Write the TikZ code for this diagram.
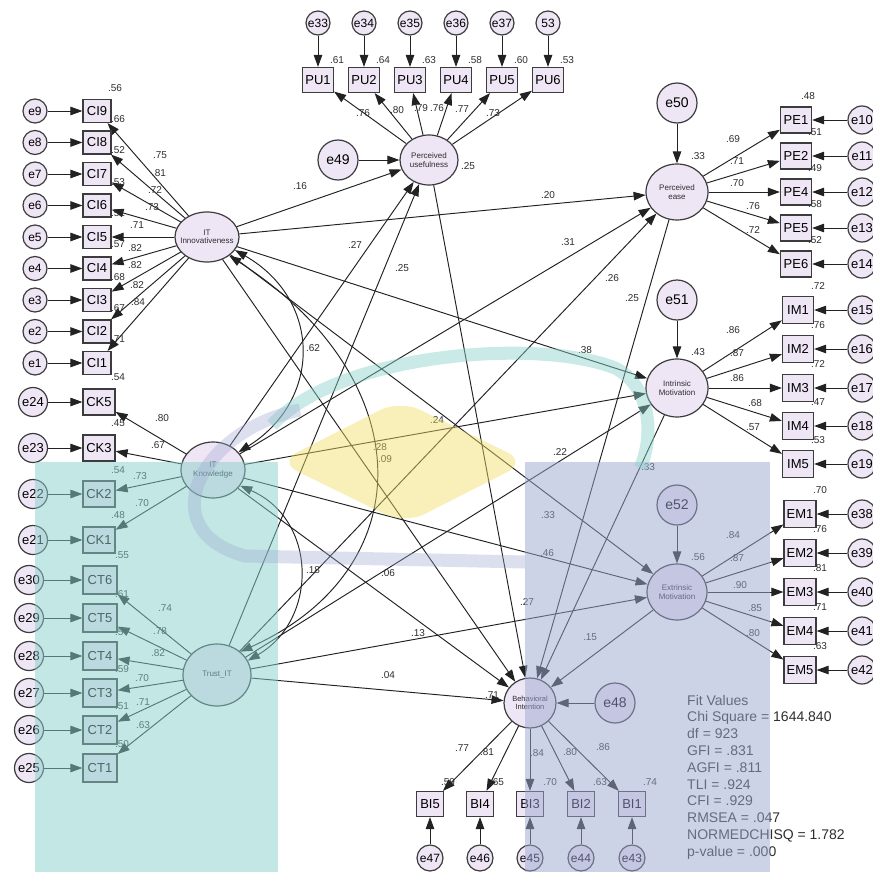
\documentclass[tikz,border=0pt]{standalone}
\usepackage{fontspec}
\setmainfont{Liberation Sans}
\usetikzlibrary{arrows.meta,shapes.geometric}
\definecolor{linec}{HTML}{222222}
\definecolor{edgec}{HTML}{3C3C3C}
\definecolor{nodefill}{HTML}{EEE5F5}
\definecolor{valc}{HTML}{2E2E2E}
\definecolor{wmteal}{RGB}{137,209,203}
\definecolor{wmlav}{RGB}{157,169,209}
\definecolor{wmyel}{RGB}{241,221,101}
\begin{document}
\begin{tikzpicture}[x=1pt,y=-1pt,
  arr/.style={draw=linec,line width=0.95pt,-{Triangle[length=12pt,width=8.5pt]}},
  cov/.style={draw=linec,line width=0.95pt,{Triangle[length=12pt,width=8.5pt]}-{Triangle[length=12pt,width=8.5pt]}},
  obs/.style={rectangle,draw=edgec,fill=nodefill,line width=1.2pt,minimum width=30pt,minimum height=24pt,inner sep=0pt,font=\fontsize{13}{13}\selectfont},
  err/.style={circle,draw=edgec,fill=nodefill,line width=1.2pt,minimum size=24pt,inner sep=0pt,font=\fontsize{12}{12}\selectfont},
  miderr/.style={err,minimum size=29pt,font=\fontsize{13}{13}\selectfont},
  bigerr/.style={err,minimum size=40pt,font=\fontsize{14}{14}\selectfont},
  lat/.style={ellipse,draw=edgec,fill=nodefill,line width=1.2pt,inner sep=0pt},
  lattxt/.style={align=center,font=\fontsize{8}{8.5}\selectfont,inner sep=0pt,text=valc},
  val/.style={font=\fontsize{10}{10}\selectfont,text=valc,inner sep=0pt},
  fitvals/.style={font=\fontsize{14}{14}\selectfont,text=valc,inner sep=0pt,anchor=base west}
]
\fill[white] (0,0) rectangle (872,872);
\useasboundingbox (0,0) rectangle (872,872);

% ---------- latent constructs ----------
\node[lat,minimum width=64pt,minimum height=50pt] (ITI) at (207,237) {};
\node[lat,minimum width=58pt,minimum height=50pt] (PU)  at (429,160) {};
\node[lat,minimum width=62pt,minimum height=56pt] (PE)  at (677,192) {};
\node[lat,minimum width=62pt,minimum height=58pt] (IM)  at (677,388) {};
\node[lat,minimum width=60pt,minimum height=56pt] (EM)  at (677,592) {};
\node[lat,minimum width=52pt,minimum height=50pt] (BI)  at (530,703) {};
\node[lat,minimum width=64pt,minimum height=56pt] (ITK) at (213,470) {};
\node[lat,minimum width=68pt,minimum height=62pt] (TR)  at (217,675) {};

% ---------- disturbances of the endogenous constructs ----------
\node[bigerr] (e49) at (338,160) {e49};
\node[bigerr] (e50) at (677,103) {e50};
\node[bigerr] (e51) at (677,300) {e51};
\node[bigerr] (e52) at (677,505) {e52};
\node[bigerr] (e48) at (615,703) {e48};
\draw[arr] (e49) -- (PU);
\draw[arr] (e50) -- (PE);
\draw[arr] (e51) -- (IM);
\draw[arr] (e52) -- (EM);
\draw[arr] (e48) -- (BI);

% ---------- IT innovativeness indicators ----------
\foreach \i/\y in {9/111,8/142.5,7/174,6/205.5,5/237,4/268.5,3/300,2/331.5,1/363}{
  \node[err] (e\i) at (35,\y) {e\i};
  \node[obs,minimum width=28pt,minimum height=23pt] (CI\i) at (97,\y) {CI\i};
  \draw[arr] (e\i) -- (CI\i);
  \draw[arr] (ITI) -- (CI\i);
}

% ---------- IT knowledge indicators ----------
\foreach \e/\c/\y in {24/5/402,23/3/448,22/2/494,21/1/540}{
  \node[miderr] (e\e) at (33,\y) {e\e};
  \node[obs,minimum width=32pt,minimum height=26pt] (CK\c) at (99,\y) {CK\c};
  \draw[arr] (e\e) -- (CK\c);
  \draw[arr] (ITK) -- (CK\c);
}

% ---------- trust indicators ----------
\foreach \e/\c/\y in {30/6/580,29/5/618,28/4/656,27/3/693,26/2/730,25/1/768}{
  \node[miderr] (e\e) at (29,\y) {e\e};
  \node[obs,minimum width=34pt,minimum height=28pt] (CT\c) at (100,\y) {CT\c};
  \draw[arr] (e\e) -- (CT\c);
  \draw[arr] (TR) -- (CT\c);
}

% ---------- perceived usefulness indicators ----------
\foreach \e/\c/\x in {e33/1/318,e34/2/364,e35/3/410,e36/4/456,e37/5/502,53/6/548}{
  \node[err] (u\c) at (\x,23) {\e};
  \node[obs,minimum width=31pt,minimum height=25pt] (PU\c) at (\x,80) {PU\c};
  \draw[arr] (u\c) -- (PU\c);
  \draw[arr] (PU) -- (PU\c);
}

% ---------- perceived ease indicators ----------
\foreach \e/\c/\y in {10/1/120,11/2/156,12/4/192,13/5/228,14/6/264}{
  \node[miderr,minimum size=28pt] (e\e) at (862,\y) {e\e};
  \node[obs,minimum width=31pt,minimum height=26pt] (PE\c) at (796,\y) {PE\c};
  \draw[arr] (e\e) -- (PE\c);
  \draw[arr] (PE) -- (PE\c);
}

% ---------- intrinsic motivation indicators ----------
\foreach \e/\c/\y in {15/1/310,16/2/349,17/3/388,18/4/426,19/5/464}{
  \node[miderr,minimum size=28pt] (e\e) at (862,\y) {e\e};
  \node[obs,minimum width=31pt,minimum height=27pt] (IM\c) at (798,\y) {IM\c};
  \draw[arr] (e\e) -- (IM\c);
  \draw[arr] (IM) -- (IM\c);
}

% ---------- extrinsic motivation indicators ----------
\foreach \e/\c/\y in {38/1/514,39/2/553,40/3/592,41/4/631,42/5/670}{
  \node[miderr,minimum size=28pt] (e\e) at (862,\y) {e\e};
  \node[obs,minimum width=32pt,minimum height=27pt] (EM\c) at (800,\y) {EM\c};
  \draw[arr] (e\e) -- (EM\c);
  \draw[arr] (EM) -- (EM\c);
}

% ---------- behavioural intention indicators ----------
\foreach \e/\c/\x in {47/5/430,46/4/480,45/3/530,44/2/581,43/1/632}{
  \node[err,minimum size=26pt] (e\e) at (\x,858) {e\e};
  \node[obs,minimum width=27pt,minimum height=25pt] (BI\c) at (\x,804) {BI\c};
  \draw[arr] (e\e) -- (BI\c);
  \draw[arr] (BI) -- (BI\c);
}

% ---------- structural paths ----------
\foreach \s in {ITI,ITK,TR}{
  \foreach \t in {PU,PE,IM,EM,BI}{
    \draw[arr] (\s) -- (\t);
  }
}
\foreach \s in {PU,PE,IM,EM}{
  \draw[arr] (\s) -- (BI);
}

% ---------- covariances among exogenous constructs ----------
\draw[cov] (ITI.-25) .. controls (322,300) and (322,400) .. (ITK.35);
\draw[cov] (ITI.-40) .. controls (422,380) and (422,570) .. (TR.45);
\draw[cov] (ITK.-30) .. controls (318,520) and (318,620) .. (TR.25);

% ---------- construct names ----------
\node[lattxt] (tITI) at (ITI) {IT\\Innovativeness};
\node[lattxt] (tPU)  at (PU)  {Perceived\\usefulness};
\node[lattxt] (tPE)  at (PE)  {Perceived\\ease};
\node[lattxt] (tIM)  at (IM)  {Intrinsic\\Motivation};
\node[lattxt] (tEM)  at (EM)  {Extrinsic\\Motivation};
\node[lattxt,font=\fontsize{7.5}{8}\selectfont] (tBI) at (BI) {Behavioral\\Intention};
\node[lattxt] (tITK) at (ITK) {IT\\Knowledge};
\node[lattxt] (tTR)  at (TR)  {Trust\_IT};

% ---------- estimates ----------
\foreach \x/\y/\t [count=\k] in {
  300/186/.16, 548/195/.20, 355/245/.27, 402/268/.25, 568/242/.31, 612/278/.26,
  632/298/.25, 313/348/.62, 585/350/.38, 437/420/.24, 380/447/.28, 385/459/.09,
  560/452/.22, 548/515/.33, 648/467/.33, 547/553/.46, 313/570/.18, 388/573/.06,
  527/602/.27, 418/633/.13, 590/637/.15, 388/675/.04,
  468/166/.25, 698/156/.33, 698/352/.43, 698/557/.56, 492/695/.71,
  363/113/.76, 397/110/.80, 421/108/.79, 437/108/.76, 462/109/.77, 493/113/.73,
  337/60/.61, 383/60/.64, 429/60/.63, 475/60/.58, 521/60/.60, 567/60/.53,
  733/139/.69, 737/161/.71, 737/183/.70, 753/206/.76, 753/230/.72,
  808/96/.48, 815/132/.51, 815/168/.49, 815/204/.58, 815/240/.52,
  733/330/.86, 737/353/.87, 737/378/.86, 755/403/.68, 753/427/.57,
  818/286/.72, 818/325/.76, 818/364/.72, 818/402/.47, 818/440/.53,
  733/535/.84, 737/558/.87, 740/585/.90, 755/608/.85, 753/633/.80,
  820/490/.70, 820/529/.76, 820/568/.81, 820/607/.71, 820/646/.63,
  462/748/.77, 487/752/.81, 537/753/.84, 570/752/.80, 603/747/.86,
  448/782/.59, 497/782/.65, 550/782/.70, 600/782/.63, 650/782/.74,
  160/155/.75, 159/173/.81, 155/190/.72, 152/207/.73, 137/225/.71,
  135/248/.82, 135/265/.82, 137/285/.82, 138/302/.84,
  115/88/.56, 118/119/.66, 118/150/.52, 118/182/.53, 118/213/.51,
  118/244/.57, 118/277/.68, 118/308/.67, 118/339/.71,
  118/377/.54, 118/423/.45, 118/470/.54, 118/515/.48,
  162/418/.80, 158/445/.67, 140/476/.73, 142/503/.70,
  122/555/.55, 122/594/.61, 122/632/.57, 122/669/.59, 122/706/.51, 122/744/.50,
  165/608/.74, 160/631/.78, 158/653/.82, 142/678/.70, 143/702/.71, 143/725/.63}
  \node[val,name=v\k] at (\x,\y) {\t};

% ---------- fit statistics ----------
\foreach \t [count=\k from 0] in {Fit Values, Chi Square = 1644.840, df = 923,
  GFI = .831, AGFI = .811, TLI = .924, CFI = .929, RMSEA = .047,
  NORMEDCHISQ = 1.782, p-value = .000}
  \node[fitvals,name=fv\k] at (687,705+16.8*\k) {\t};

% ---------- translucent emblem laid over the diagram ----------
\fill[wmteal,opacity=.5] (35,462) rectangle (278,872);
\fill[wmlav,opacity=.5] (525,462) rectangle (770,872);
\fill[wmyel,opacity=.45,rounded corners=22pt] (278,462) -- (400,400) -- (527,462) -- (405,524) -- cycle;
\draw[wmteal,opacity=.45,line width=13pt] (272,425) .. controls (340,352) and (540,338) .. (615,368)
  .. controls (650,385) and (655,435) .. (640,468);
\draw[wmlav,opacity=.35,line width=13pt] (300,410) .. controls (200,430) and (150,530) .. (245,556) -- (525,562);
\end{tikzpicture}
\end{document}
